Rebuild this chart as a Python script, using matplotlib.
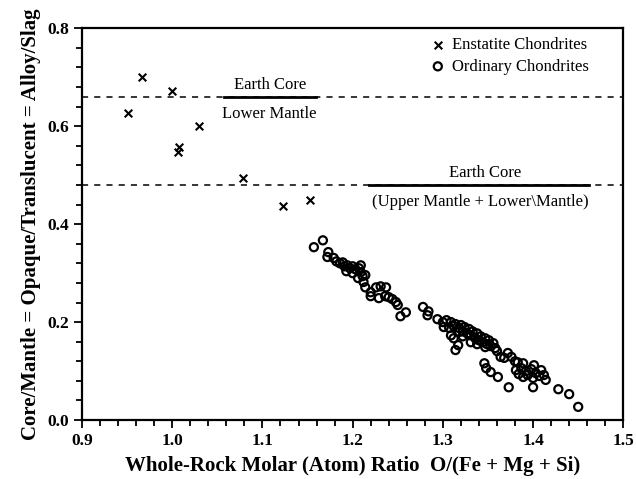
import matplotlib
matplotlib.use("Agg")
import matplotlib.pyplot as plt
from matplotlib.ticker import MultipleLocator

plt.rcParams['font.family'] = ['Liberation Serif', 'DejaVu Serif']

# Enstatite chondrites (x markers)
ens_x = [0.951, 0.967, 1.000, 1.007, 1.006, 1.030, 1.078, 1.123, 1.153]
ens_y = [0.627, 0.700, 0.671, 0.557, 0.547, 0.600, 0.494, 0.437, 0.449]

# Ordinary chondrites (open circles)
ord_x = [1.157, 1.167, 1.173, 1.172, 1.179, 1.182, 1.186, 1.189, 1.191, 1.194,
         1.197, 1.200, 1.193, 1.200, 1.203, 1.207, 1.209, 1.211, 1.206, 1.214,
         1.212, 1.214, 1.220, 1.226, 1.231, 1.237, 1.220, 1.229, 1.236, 1.240,
         1.244, 1.248, 1.250, 1.253, 1.259, 1.209,
         1.278, 1.284, 1.283, 1.294, 1.300, 1.304, 1.301, 1.307, 1.309, 1.312,
         1.317, 1.314,
         1.309, 1.312, 1.314, 1.318, 1.320, 1.322, 1.324, 1.327, 1.329, 1.331,
         1.333, 1.336, 1.338, 1.340, 1.342, 1.344, 1.347, 1.349, 1.351, 1.353,
         1.356, 1.358, 1.322, 1.331, 1.318, 1.338, 1.347, 1.360, 1.364, 1.368,
         1.372, 1.376, 1.380, 1.383, 1.389, 1.401,
         1.346, 1.348, 1.353, 1.361, 1.373,
         1.381, 1.384, 1.387, 1.389, 1.392, 1.394, 1.398, 1.400, 1.403, 1.407,
         1.409, 1.412, 1.414, 1.400, 1.428, 1.440, 1.450]
ord_y = [0.353, 0.367, 0.343, 0.333, 0.331, 0.324, 0.320, 0.322, 0.314, 0.316,
         0.310, 0.314, 0.304, 0.300, 0.308, 0.310, 0.302, 0.294, 0.290, 0.296,
         0.282, 0.271, 0.261, 0.271, 0.273, 0.271, 0.253, 0.249, 0.253, 0.251,
         0.247, 0.241, 0.235, 0.212, 0.220, 0.316,
         0.231, 0.222, 0.214, 0.206, 0.200, 0.204, 0.190, 0.188, 0.173, 0.167,
         0.153, 0.143,
         0.200, 0.192, 0.196, 0.188, 0.194, 0.181, 0.190, 0.177, 0.186, 0.173,
         0.181, 0.167, 0.177, 0.163, 0.171, 0.159, 0.167, 0.155, 0.163, 0.151,
         0.157, 0.147, 0.171, 0.159, 0.180, 0.155, 0.149, 0.141, 0.129, 0.127,
         0.137, 0.129, 0.120, 0.118, 0.116, 0.112,
         0.116, 0.106, 0.098, 0.088, 0.067,
         0.102, 0.094, 0.106, 0.088, 0.100, 0.092, 0.104, 0.086, 0.096, 0.090,
         0.102, 0.092, 0.082, 0.067, 0.063, 0.053, 0.027]

# Reference levels for the Earth
core_lower = 0.66
core_whole = 0.48
seg_lower = [1.057, 1.159]
seg_whole = [1.218, 1.462]

fig = plt.figure(figsize=(6.36, 4.79), dpi=100)
ax = fig.add_axes([0.129, 0.123, 0.851, 0.818])

ax.axhline(core_lower, color='black', ls=(0, (4, 4)), lw=1.1)
ax.axhline(core_whole, color='black', ls=(0, (4, 4)), lw=1.1)
ax.plot(seg_lower, [core_lower, core_lower], color='black', lw=2)
ax.plot(seg_whole, [core_whole, core_whole], color='black', lw=2)

ax.scatter(ens_x, ens_y, marker='x', s=30, color='black', linewidths=1.5,
           label='Enstatite Chondrites', zorder=3)
ax.scatter(ord_x, ord_y, marker='o', s=34, facecolors='none',
           edgecolors='black', linewidths=1.6, label='Ordinary Chondrites',
           zorder=3)

ax.text(sum(seg_lower) / 2, core_lower + 0.008, 'Earth Core', ha='center',
        va='bottom', fontsize=12)
ax.text(sum(seg_lower) / 2, core_lower - 0.018, 'Lower Mantle', ha='center',
        va='top', fontsize=12)
ax.text(1.347, core_whole + 0.008, 'Earth Core', ha='center', va='bottom',
        fontsize=12)
ax.text(1.341, core_whole - 0.018, '(Upper Mantle + Lower\\Mantle)',
        ha='center', va='top', fontsize=12)

ax.legend(loc='upper left', bbox_to_anchor=(0.645, 0.978), frameon=False,
          fontsize=12, handlelength=0.8, handletextpad=0.45, borderpad=0,
          borderaxespad=0, labelspacing=0.35, scatterpoints=1)

ax.set_xlim(0.9, 1.5)
ax.set_ylim(0.0, 0.8)
ax.xaxis.set_major_locator(MultipleLocator(0.1))
ax.xaxis.set_minor_locator(MultipleLocator(0.02))
ax.yaxis.set_major_locator(MultipleLocator(0.2))
ax.yaxis.set_minor_locator(MultipleLocator(0.04))
ax.tick_params(which='both', direction='out', top=False, right=False,
               width=1.3, labelsize=12.5)
ax.tick_params(which='major', length=6)
ax.tick_params(which='minor', length=4)
for lab in ax.get_xticklabels() + ax.get_yticklabels():
    lab.set_fontweight('bold')
for s in ax.spines.values():
    s.set_linewidth(1.6)

ax.set_xlabel('Whole-Rock Molar (Atom) Ratio  O/(Fe + Mg + Si)', fontsize=15,
              fontweight='bold', labelpad=5)
ax.set_ylabel('Core/Mantle = Opaque/Translucent = Alloy/Slag', fontsize=15,
              fontweight='bold', labelpad=4)

fig.savefig('out.png', dpi=100)
